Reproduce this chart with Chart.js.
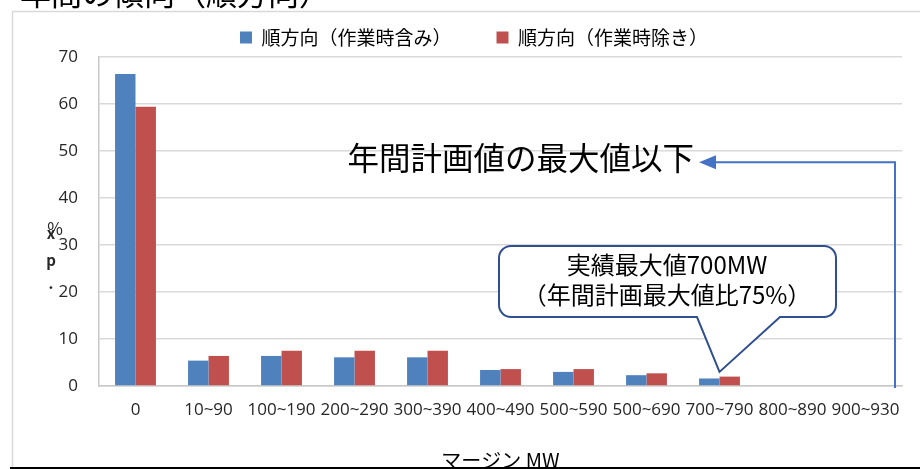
<!DOCTYPE html>
<html><head><meta charset="utf-8">
<script src="https://cdn.jsdelivr.net/npm/chart.js@4/dist/chart.umd.min.js"></script>
<style>html,body{margin:0;padding:0;background:#fff;}#wrap{width:920px;height:469px;}</style>
</head><body><div id="wrap"><canvas id="c" width="920" height="469"></canvas></div>
<script>
const categories = ['0','10~90','100~190','200~290','300~390','400~490','500~590','500~690','700~790','800~890','900~930'];
const withWork = [66.4, 5.4, 6.4, 6.1, 6.1, 3.4, 3.0, 2.3, 1.6, 0, 0];
const withoutWork = [59.4, 6.4, 7.5, 7.5, 7.5, 3.6, 3.6, 2.7, 2.0, 0, 0];
const seriesNames = ['順方向（作業時含み）','順方向（作業時除き）'];
const yTicks = [0,10,20,30,40,50,60,70];
const xTitle = 'マージン MW';
const pageTitle = '年間の傾向（順方向）';
const noteText = '年間計画値の最大値以下';
const calloutLines = ['実績最大値700MW','（年間計画最大値比75%）'];
const FONT = '"Noto Sans CJK JP", "Noto Sans", sans-serif';
const NUMFONT = '"Open Sans", "Noto Sans", sans-serif';

const annot = {
  id:'annot',
  afterDraw(chart){
    const ctx = chart.ctx, xs = chart.scales.x, ys = chart.scales.y;
    ctx.save();
    // frame
    ctx.strokeStyle = '#d9d9d9'; ctx.lineWidth = 1.5;
    ctx.beginPath(); ctx.moveTo(12.5, 469); ctx.lineTo(12.5, 11.5); ctx.lineTo(920, 11.5); ctx.stroke();
    // cut-off page title
    ctx.fillStyle = '#000'; ctx.font = '31px ' + FONT; ctx.textBaseline = 'alphabetic'; ctx.textAlign='left';
    ctx.fillText(pageTitle, 20, 5);
    // y-axis title (stacked)
    ctx.fillStyle = '#262626'; ctx.textAlign='center'; ctx.textBaseline='middle';
    ctx.font = '17px ' + FONT;
    ctx.fillText('%', 55, 229);
    ctx.font = 'bold 15px ' + FONT;
    ctx.fillText('x', 51, 233);
    ctx.fillText('p', 51, 260);
    ctx.fillText('.', 51, 283);
    // arrow
    const yA = ys.getPixelForValue(47.6);
    const xV = 895;
    ctx.strokeStyle = '#4472c4'; ctx.fillStyle = '#4472c4'; ctx.lineWidth = 2;
    ctx.beginPath(); ctx.moveTo(xV, ys.getPixelForValue(0)+2); ctx.lineTo(xV, yA); ctx.lineTo(714, yA); ctx.stroke();
    ctx.beginPath(); ctx.moveTo(699, yA); ctx.lineTo(716, yA-7); ctx.lineTo(716, yA+7); ctx.closePath(); ctx.fill();
    // note text
    ctx.fillStyle = '#000'; ctx.font = '31.5px ' + FONT; ctx.textAlign='right'; ctx.textBaseline='middle';
    ctx.fillText(noteText, 694, yA-4);
    // callout
    const L=499, R=836, T=246, B=317, r=12;
    const tipX = xs.getPixelForValue(8), tipY = ys.getPixelForValue(3);
    ctx.beginPath();
    ctx.moveTo(L+r, T); ctx.lineTo(R-r, T); ctx.arcTo(R, T, R, T+r, r);
    ctx.lineTo(R, B-r); ctx.arcTo(R, B, R-r, B, r);
    ctx.lineTo(780, B); ctx.lineTo(tipX, tipY); ctx.lineTo(697, B);
    ctx.lineTo(L+r, B); ctx.arcTo(L, B, L, B-r, r);
    ctx.lineTo(L, T+r); ctx.arcTo(L, T, L+r, T, r);
    ctx.closePath();
    ctx.fillStyle = '#fff'; ctx.fill();
    ctx.strokeStyle = '#2f4f8f'; ctx.lineWidth = 2; ctx.stroke();
    ctx.fillStyle = '#000'; ctx.font = '24px ' + FONT; ctx.textAlign='center';
    ctx.fillText(calloutLines[0], 667, 265);
    ctx.fillText(calloutLines[1], 667, 295);
    // bottom black line
    ctx.strokeStyle = '#000'; ctx.lineWidth = 2;
    ctx.beginPath(); ctx.moveTo(10, 468); ctx.lineTo(920, 468); ctx.stroke();
    ctx.restore();
  }
};

new Chart(document.getElementById('c'), {
  type:'bar',
  data:{
    labels: categories,
    datasets:[
      {label: seriesNames[0], data: withWork, backgroundColor:'#4f81bd', borderWidth:0},
      {label: seriesNames[1], data: withoutWork, backgroundColor:'#c0504d', borderWidth:0}
    ]
  },
  options:{
    responsive:false, animation:false,
    layout:{padding:{top:-17, left:46, right:18, bottom:0}},
    plugins:{
      legend:{position:'top', labels:{font:{family:FONT, size:19}, color:'#000', boxWidth:12, boxHeight:12, padding:45}},
      tooltip:{enabled:false}
    },
    datasets:{bar:{categoryPercentage:0.56, barPercentage:1}},
    scales:{
      x:{
        grid:{display:false, drawTicks:false},
        border:{display:true, color:'#c8c8c8', width:1.5},
        ticks:{font:{family:NUMFONT, size:17}, color:'#262626', padding:14, maxRotation:0, autoSkip:false},
        title:{display:true, text:xTitle, font:{family:FONT, size:20}, color:'#000', padding:{top:0,bottom:-3}},
        afterFit(s){ s.height = 83; }
      },
      y:{
        min:0, max:70,
        afterBuildTicks(s){ s.ticks = yTicks.map(v=>({value:v})); },
        grid:{color:'#d9d9d9', lineWidth:1.5, drawTicks:false},
        border:{display:true, color:'#c8c8c8', width:1.5},
        ticks:{font:{family:NUMFONT, size:17}, color:'#262626', padding:21},
        afterFit(s){ s.width = 53; }
      }
    }
  },
  plugins:[annot]
});
</script></body></html>
